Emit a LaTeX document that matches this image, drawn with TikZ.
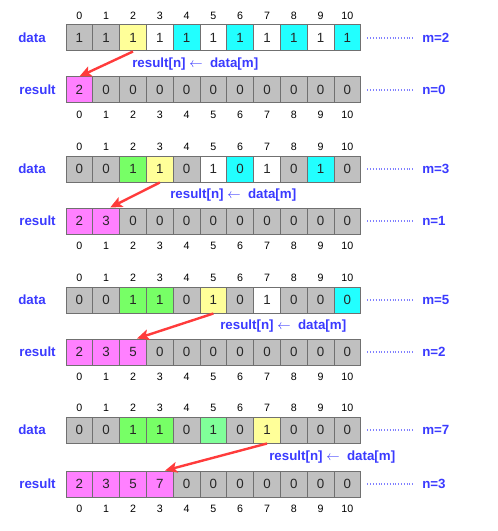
\documentclass[tikz,border=0pt]{standalone}
\usepackage{fontspec}
\setmainfont{Liberation Sans}
\usetikzlibrary{arrows.meta}

\definecolor{cgray}{HTML}{C0C0C0}
\definecolor{cyel}{HTML}{FFFF99}
\definecolor{ccyan}{HTML}{22FFFF}
\definecolor{cgreen}{HTML}{77FF66}
\definecolor{clgreen}{HTML}{80FF99}
\definecolor{cpink}{HTML}{FF80FF}
\definecolor{cblue}{HTML}{3A3AFF}
\definecolor{cdot}{HTML}{8080FF}
\definecolor{cred}{HTML}{FF3B3B}
\definecolor{cline}{HTML}{707070}

\tikzset{
  cell/.style={draw=cline, line width=0.75pt, minimum width=20.1pt, minimum height=19.5pt,
    inner sep=0pt, text=black!85, font=\fontsize{10}{12}\selectfont},
  idx/.style={inner sep=0pt, font=\fontsize{8}{10}\selectfont},
  lbl/.style={inner sep=0pt, text=cblue, font=\bfseries\fontsize{10}{12}\selectfont},
  dots/.style={draw=cdot, line width=2pt, dash pattern=on 0.6pt off 1.5pt},
  move/.style={draw=cred, line width=1.8pt, -{Stealth[length=9pt,width=8pt,inset=2pt]}},
}

% #1 panel, #2 top of data row, #3 top of result row, #4 data cells, #5 result cells,
% #6 m, #7 n, #8 x of the step label, #9 shift of the arrow tip
\newcommand\drawpanel[9]{%
  \foreach \i in {0,...,10}
    \node[idx] (t#1-\i) at ({66+26.8*(\i+0.5)}, {#2-9}) {\i};
  \foreach \v/\c [count=\i from 0] in {#4}
    \node[cell, fill=\c] (d#1-\i) at ({66+26.8*(\i+0.5)}, {#2+13}) {\v};
  \foreach \v/\c [count=\i from 0] in {#5}
    \node[cell, fill=\c] (r#1-\i) at ({66+26.8*(\i+0.5)}, {#3+13}) {\v};
  \foreach \i in {0,...,10}
    \node[idx] (b#1-\i) at ({66+26.8*(\i+0.5)}, {#3+38}) {\i};
  \node[lbl] (dl#1) at (32, {#2+13}) {data};
  \node[lbl] (rl#1) at (37.5, {#3+13}) {result};
  \node[lbl, anchor=west] (ml#1) at (422, {#2+13}) {m=#6};
  \node[lbl, anchor=west] (nl#1) at (422, {#3+13}) {n=#7};
  \draw[dots] ([xshift=4.5pt]d#1-10.east) -- ([xshift=-6.75pt]ml#1.west);
  \draw[dots] ([xshift=4.5pt]r#1-10.east) -- ([xshift=-6.75pt]nl#1.west);
  \node[lbl, anchor=west] (op#1) at (#8, {(#2+26+#3)/2}) {result[n]\ $\leftarrow$\ \ data[m]};
  \draw[move] (d#1-#6.south) -- ([xshift=#9]r#1-#7.north);
}

\begin{document}
\begin{tikzpicture}[x=0.75pt, y=-0.75pt]
  \useasboundingbox (0,0) rectangle (498,531);

  \drawpanel{1}{25}{77}
    {1/cgray,1/cgray,1/cyel,1/white,1/ccyan,1/white,1/ccyan,1/white,1/ccyan,1/white,1/ccyan}
    {2/cpink,0/cgray,0/cgray,0/cgray,0/cgray,0/cgray,0/cgray,0/cgray,0/cgray,0/cgray,0/cgray}
    {2}{0}{132}{0pt}

  \drawpanel{2}{156}{208}
    {0/cgray,0/cgray,1/cgreen,1/cyel,0/cgray,1/white,0/ccyan,1/white,0/cgray,1/ccyan,0/cgray}
    {2/cpink,3/cpink,0/cgray,0/cgray,0/cgray,0/cgray,0/cgray,0/cgray,0/cgray,0/cgray,0/cgray}
    {3}{1}{170}{3pt}

  \drawpanel{3}{287}{339}
    {0/cgray,0/cgray,1/cgreen,1/cgreen,0/cgray,1/cyel,0/cgray,1/white,0/cgray,0/cgray,0/ccyan}
    {2/cpink,3/cpink,5/cpink,0/cgray,0/cgray,0/cgray,0/cgray,0/cgray,0/cgray,0/cgray,0/cgray}
    {5}{2}{220}{3pt}

  \drawpanel{4}{417}{471}
    {0/cgray,0/cgray,1/cgreen,1/cgreen,0/cgray,1/clgreen,0/cgray,1/cyel,0/cgray,0/cgray,0/cgray}
    {2/cpink,3/cpink,5/cpink,7/cpink,0/cgray,0/cgray,0/cgray,0/cgray,0/cgray,0/cgray,0/cgray}
    {7}{3}{269}{4pt}
\end{tikzpicture}
\end{document}
